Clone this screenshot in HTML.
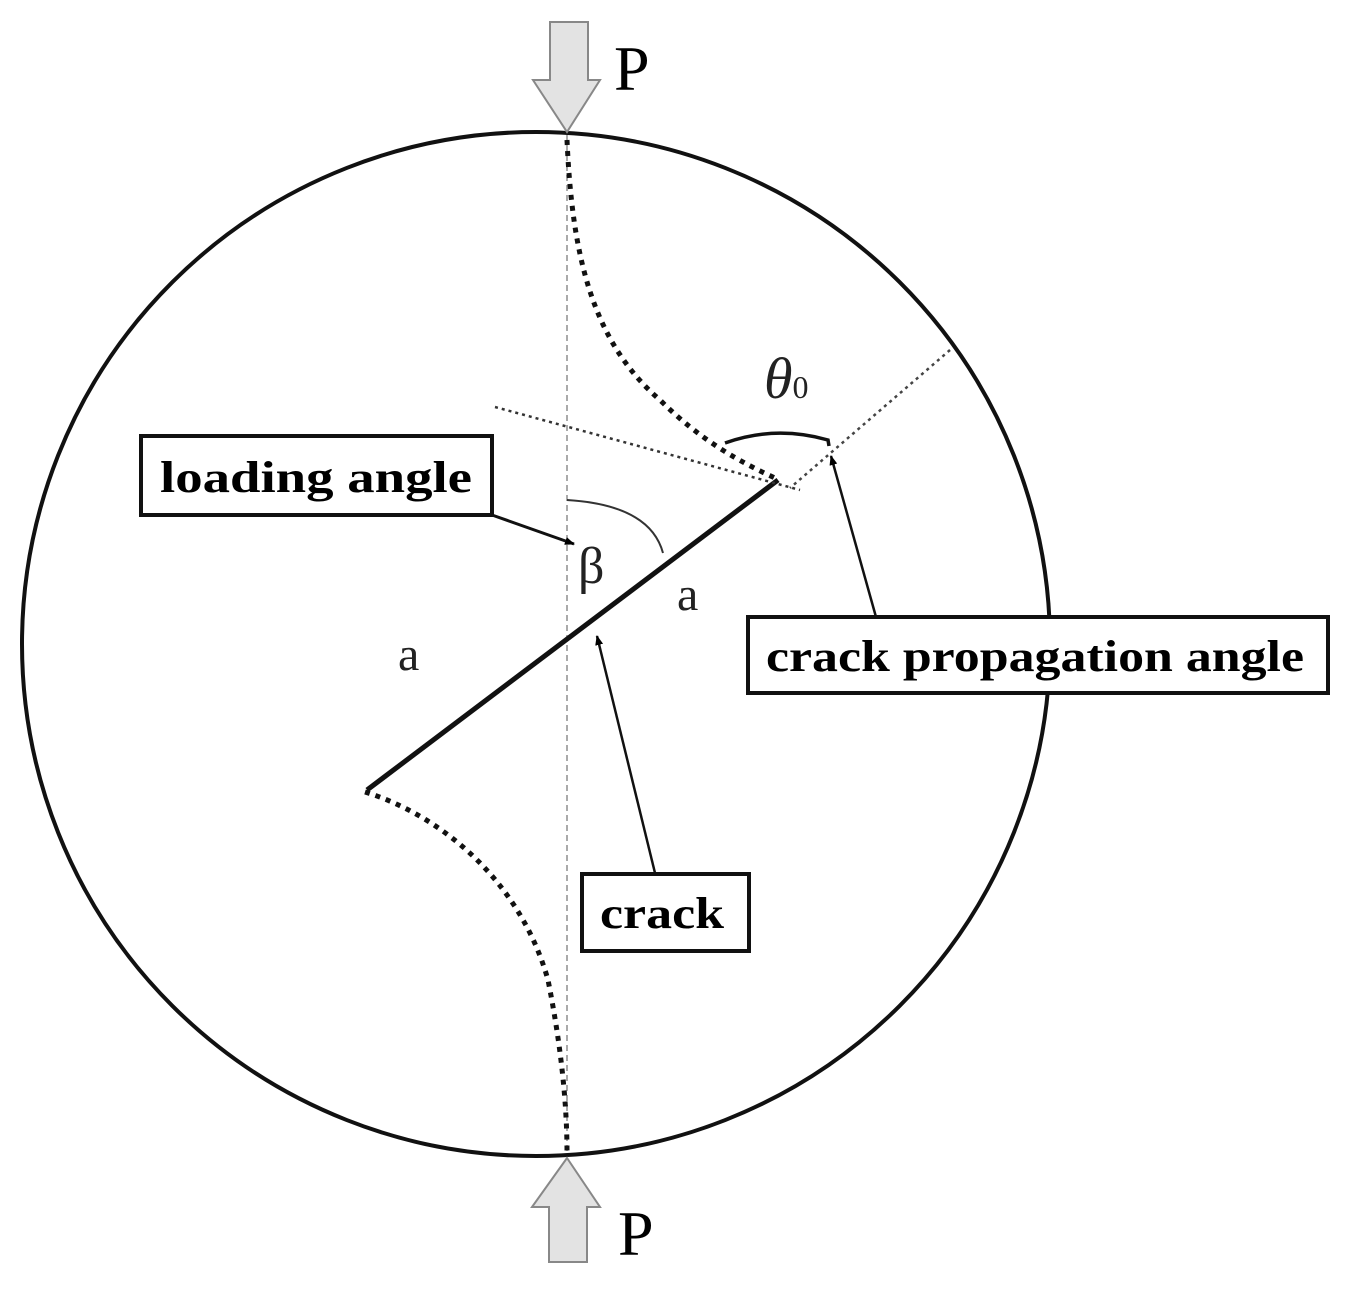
<!DOCTYPE html>
<html><head><meta charset="utf-8"><style>html,body{margin:0;padding:0;background:#fff}svg{display:block}</style></head>
<body>
<svg width="1354" height="1289" viewBox="0 0 1354 1289" xmlns="http://www.w3.org/2000/svg">
<defs>
<marker id="ah" viewBox="0 0 10 10" refX="9" refY="5" markerWidth="10" markerHeight="10" markerUnits="userSpaceOnUse" orient="auto"><path d="M0,1 L10,5 L0,9 z" fill="#000"/></marker>
</defs>
<!-- circle -->
<ellipse cx="536" cy="644" rx="514" ry="512" fill="none" stroke="#111" stroke-width="4"/>
<!-- vertical dashed -->
<line x1="567" y1="135" x2="567" y2="1155" stroke="#aaa" stroke-width="2" stroke-dasharray="6,4"/>
<!-- crack -->
<line x1="367" y1="790" x2="778" y2="480" stroke="#111" stroke-width="5"/>
<!-- dotted curves -->
<path d="M567,140 C572,250 590,340 660,400 C700,440 740,462 775,478" fill="none" stroke="#111" stroke-width="5" stroke-dasharray="5,6"/>
<path d="M365,792 C440,815 520,880 548,980 C560,1040 567,1100 567,1152" fill="none" stroke="#111" stroke-width="5" stroke-dasharray="5,6"/>
<!-- thin dotted lines -->
<line x1="495" y1="407" x2="800" y2="490" stroke="#333" stroke-width="2.5" stroke-dasharray="3,4"/>
<line x1="950" y1="350" x2="790" y2="488" stroke="#444" stroke-width="2.5" stroke-dasharray="3,4"/>
<!-- theta arc -->
<path d="M725,443 Q775,425 828,440 L829,446" fill="none" stroke="#111" stroke-width="3.5"/>
<!-- beta arc -->
<path d="M567,500 Q650,505 663,553" fill="none" stroke="#333" stroke-width="2"/>
<!-- arrows -->
<polygon points="550,22 588,22 588,80 600,80 567,132 533,80 550,80" fill="#e3e3e3" stroke="#888" stroke-width="2"/>
<polygon points="549,1262 587,1262 587,1207 600,1207 567,1158 532,1207 549,1207" fill="#e3e3e3" stroke="#888" stroke-width="2"/>
<text x="614" y="90" font-family="Liberation Serif, serif" font-size="64">P</text>
<text x="618" y="1255" font-family="Liberation Serif, serif" font-size="64">P</text>
<!-- boxes -->
<rect x="141" y="436" width="351" height="79" fill="#fff" stroke="#111" stroke-width="4"/>
<text x="160" y="492" font-family="Liberation Serif, serif" font-weight="bold" font-size="44" textLength="312" lengthAdjust="spacingAndGlyphs">loading angle</text>
<rect x="748" y="617" width="580" height="76" fill="#fff" stroke="#111" stroke-width="4"/>
<text x="766" y="671" font-family="Liberation Serif, serif" font-weight="bold" font-size="44" textLength="538" lengthAdjust="spacingAndGlyphs">crack propagation angle</text>
<rect x="582" y="874" width="167" height="77" fill="#fff" stroke="#111" stroke-width="4"/>
<text x="600" y="928" font-family="Liberation Serif, serif" font-weight="bold" font-size="44" textLength="124" lengthAdjust="spacingAndGlyphs">crack</text>
<!-- connectors -->
<line x1="492" y1="515" x2="574" y2="544" stroke="#111" stroke-width="3" marker-end="url(#ah)"/>
<line x1="655" y1="873" x2="597" y2="636" stroke="#111" stroke-width="2.5" marker-end="url(#ah)"/>
<line x1="876" y1="617" x2="831" y2="456" stroke="#111" stroke-width="2.5" marker-end="url(#ah)"/>
<!-- labels -->
<text x="578" y="583" font-family="Liberation Serif, serif" font-size="52" fill="#222">β</text>
<text x="677" y="610" font-family="Liberation Serif, serif" font-size="48" fill="#222">a</text>
<text x="398" y="670" font-family="Liberation Serif, serif" font-size="48" fill="#222">a</text>
<text x="764" y="398" font-family="Liberation Serif, serif" font-style="italic" font-size="58" fill="#222">θ<tspan font-style="normal" font-size="32">0</tspan></text>
</svg>
</body></html>
